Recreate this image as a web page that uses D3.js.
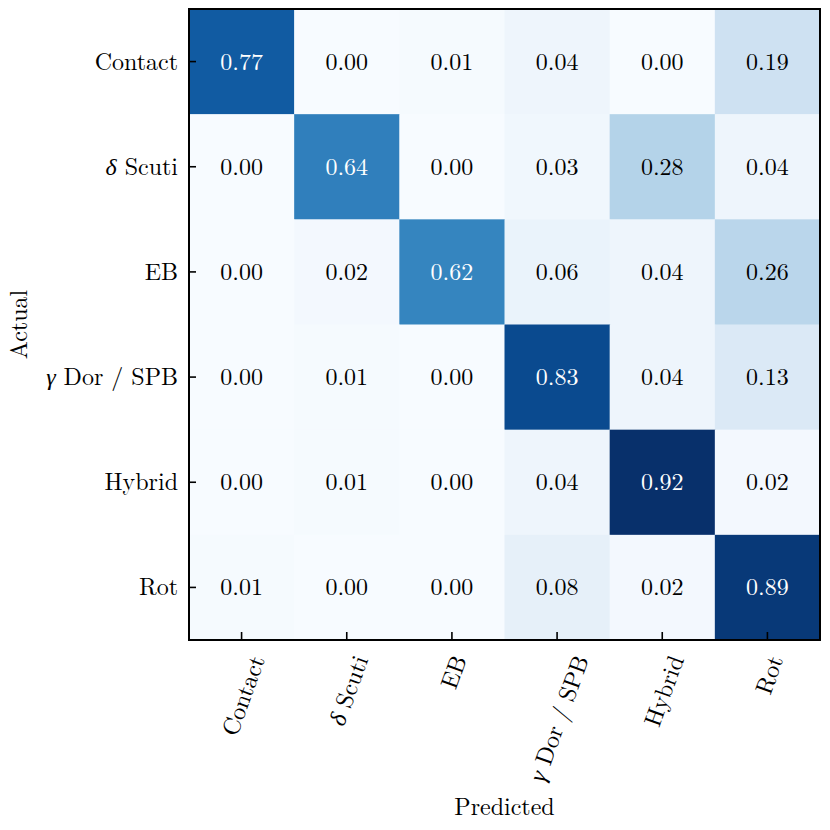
<!DOCTYPE html>
<html>
<head>
<meta charset="utf-8">
<script src="https://cdn.jsdelivr.net/npm/d3@7"></script>
<style>
  body { margin: 0; background: #fff; }
</style>
</head>
<body>
<div id="chart"></div>
<script>
// Class labels: [greek prefix, rest of name]
const classLabels = [["", "Contact"],
                     ["δ", " Scuti"],
                     ["", "EB"],
                     ["γ", " Dor / SPB"],
                     ["", "Hybrid"],
                     ["", "Rot"]];
const classKeys = ["Contact", "dScuti", "EB", "gDorSPB", "Hybrid", "Rot"];

// Row = actual, column = predicted (normalised by row)
const rowContact = [0.77, 0.00, 0.01, 0.04, 0.00, 0.19];
const rowDScuti  = [0.00, 0.64, 0.00, 0.03, 0.28, 0.04];
const rowEB      = [0.00, 0.02, 0.62, 0.06, 0.04, 0.26];
const rowGDor    = [0.00, 0.01, 0.00, 0.83, 0.04, 0.13];
const rowHybrid  = [0.00, 0.01, 0.00, 0.04, 0.92, 0.02];
const rowRot     = [0.01, 0.00, 0.00, 0.08, 0.02, 0.89];
const matrixRows = [rowContact, rowDScuti, rowEB, rowGDor, rowHybrid, rowRot];

const xAxisTitle = "Predicted";
const yAxisTitle = "Actual";

const width = 830, height = 830;
const margin = {top: 9, left: 189, right: 10, bottom: 190};
const fontSize = 24;
const fontFamily = "'Latin Modern Roman', 'Liberation Serif', monospace";
const greekFamily = "'Liberation Serif', monospace";

const svg = d3.select("#chart").append("svg")
    .attr("width", width)
    .attr("height", height);

const xScale = d3.scaleBand()
    .domain(classKeys)
    .range([margin.left, width - margin.right]);
const yScale = d3.scaleBand()
    .domain(classKeys)
    .range([margin.top, height - margin.bottom]);

const maxVal = d3.max(matrixRows.flat());
const minVal = d3.min(matrixRows.flat());
const colour = d3.scaleSequential(d3.interpolateBlues).domain([0, maxVal]);
const thresh = (maxVal + minVal) / 2;

// flatten into cells
const cells = [];
matrixRows.forEach((row, i) => {
    row.forEach((v, j) => {
        cells.push({actual: classKeys[i], predicted: classKeys[j], value: v});
    });
});

svg.append("g").selectAll("rect")
    .data(cells)
    .enter()
    .append("rect")
    .attr("x", d => xScale(d.predicted))
    .attr("y", d => yScale(d.actual))
    .attr("width", xScale.bandwidth() + 0.5)
    .attr("height", yScale.bandwidth() + 0.5)
    .attr("fill", d => colour(d.value));

svg.append("g").selectAll("text")
    .data(cells)
    .enter()
    .append("text")
    .attr("x", d => xScale(d.predicted) + xScale.bandwidth() / 2)
    .attr("y", d => yScale(d.actual) + yScale.bandwidth() / 2)
    .attr("dy", "0.33em")
    .attr("text-anchor", "middle")
    .style("font-family", fontFamily)
    .attr("font-size", fontSize)
    .attr("fill", d => d.value > thresh ? "#fff" : "#000")
    .text(d => d3.format(".2f")(d.value));

// axes with inward ticks, labels added by hand
const plotBottom = height - margin.bottom;
const xAxis = d3.axisBottom(xScale).tickSize(-8).tickFormat("");
const yAxis = d3.axisLeft(yScale).tickSize(-7).tickFormat("");

svg.append("g")
    .attr("transform", `translate(0, ${plotBottom})`)
    .call(xAxis)
    .call(g => g.select(".domain").remove())
    .selectAll("line").attr("stroke", "#000").attr("stroke-width", 1.6);

svg.append("g")
    .attr("transform", `translate(${margin.left}, 0)`)
    .call(yAxis)
    .call(g => g.select(".domain").remove())
    .selectAll("line").attr("stroke", "#000").attr("stroke-width", 1.6);

// frame
svg.append("rect")
    .attr("x", margin.left)
    .attr("y", margin.top)
    .attr("width", width - margin.left - margin.right)
    .attr("height", plotBottom - margin.top)
    .attr("fill", "none")
    .attr("stroke", "#000")
    .attr("stroke-width", 2);

function addLabel(sel, lab) {
    if (lab[0]) {
        sel.append("tspan")
            .style("font-family", greekFamily)
            .style("font-style", "italic")
            .text(lab[0]);
    }
    sel.append("tspan").text(lab[1]);
}

// y tick labels
classKeys.forEach((k, i) => {
    const t = svg.append("text")
        .attr("x", margin.left - 11)
        .attr("y", yScale(k) + yScale.bandwidth() / 2)
        .attr("dy", "0.33em")
        .attr("text-anchor", "end")
        .style("font-family", fontFamily)
        .attr("font-size", fontSize);
    addLabel(t, classLabels[i]);
});

// x tick labels: rotated 70 deg, bbox centred on tick, top just below axis
const angle = 70 * Math.PI / 180;
const labelTop = plotBottom + 10;
classKeys.forEach((k, i) => {
    const g = svg.append("g");
    const t = g.append("text")
        .attr("text-anchor", "middle")
        .style("font-family", fontFamily)
        .attr("font-size", fontSize);
    addLabel(t, classLabels[i]);
    const bb = t.node().getBBox();
    const cx = bb.x + bb.width / 2, cy = bb.y + bb.height / 2;
    const rotH = bb.width * Math.sin(angle) + bb.height * Math.cos(angle);
    const tx = xScale(k) + xScale.bandwidth() / 2;
    g.attr("transform", `translate(${tx}, ${labelTop + rotH / 2}) rotate(-70) translate(${-cx}, ${-cy})`);
});

// axis titles
svg.append("text")
    .attr("x", (margin.left + width - margin.right) / 2)
    .attr("y", 815)
    .attr("text-anchor", "middle")
    .style("font-family", fontFamily)
    .attr("font-size", fontSize)
    .text(xAxisTitle);

svg.append("text")
    .attr("transform", `translate(27, ${(margin.top + plotBottom) / 2}) rotate(-90)`)
    .attr("text-anchor", "middle")
    .style("font-family", fontFamily)
    .attr("font-size", fontSize)
    .text(yAxisTitle);
</script>
</body>
</html>
